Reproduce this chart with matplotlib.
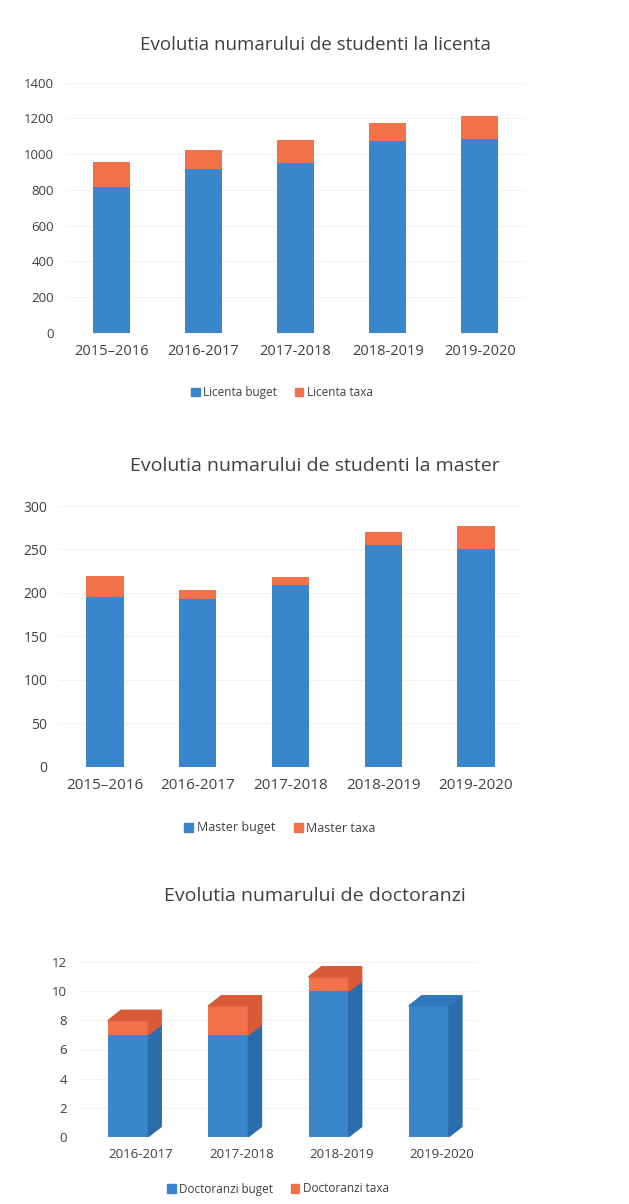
import matplotlib.pyplot as plt
from matplotlib.patches import Polygon, Patch

plt.rcParams["font.family"] = ["Open Sans", "DejaVu Sans"]

# data
years_lic = ["2015\u20132016", "2016-2017", "2017-2018", "2018-2019", "2019-2020"]
licenta_buget = [815, 918, 950, 1075, 1086]
licenta_taxa = [140, 107, 131, 97, 125]

years_mas = ["2015\u20132016", "2016-2017", "2017-2018", "2018-2019", "2019-2020"]
master_buget = [195, 193, 209, 255, 251]
master_taxa = [24, 10, 9, 15, 26]

years_doc = ["2016-2017", "2017-2018", "2018-2019", "2019-2020"]
doctoranzi_buget = [7, 7, 10, 9]
doctoranzi_taxa = [1, 2, 1, 0]

BLUE = "#3A86CC"
ORANGE = "#F0714A"
BLUE_SIDE = "#2B6DAA"
BLUE_TOP = "#2F78BC"
ORANGE_TOP = "#D85A36"
TEXT = "#404040"

fig = plt.figure(figsize=(6.29, 12.04), dpi=100)
H = 1204.0
W = 629.0


def axes_box(left, right, top, bottom):
    return [left / W, 1 - bottom / H, (right - left) / W, (bottom - top) / H]


def style(ax, ymax, step, ysize, xsize):
    ax.set_ylim(0, ymax)
    ax.set_yticks(range(0, ymax + 1, step))
    ax.grid(axis="y", color="#f3f3f3", linewidth=0.8)
    ax.set_axisbelow(True)
    for s in ax.spines.values():
        s.set_visible(False)
    ax.tick_params(length=0, colors=TEXT, pad=8)
    ax.tick_params(axis="y", labelsize=ysize)
    ax.tick_params(axis="x", labelsize=xsize)


# ---- licenta
ax1 = fig.add_axes(axes_box(65, 526, 82.7, 333))
x = range(len(years_lic))
ax1.bar(x, licenta_buget, width=0.4, color=BLUE)
ax1.bar(x, licenta_taxa, width=0.4, bottom=licenta_buget, color=ORANGE)
ax1.set_xlim(-0.5, len(years_lic) - 0.5)
ax1.set_xticks(list(x))
ax1.set_xticklabels(years_lic)
style(ax1, 1400, 200, 9.5, 10.5)
fig.text(315 / W, 1 - 45 / H, "Evolutia numarului de studenti la licenta",
         ha="center", va="center", fontsize=13.5, color=TEXT)
fig.legend(handles=[Patch(color=BLUE, label="Licenta buget"),
                    Patch(color=ORANGE, label="Licenta taxa")],
           loc="center", bbox_to_anchor=(282 / W, 1 - 393 / H), ncol=2,
           frameon=False, fontsize=8.5, handlelength=0.7, handleheight=0.7,
           handletextpad=0.3, columnspacing=1.5, labelcolor=TEXT)

# ---- master
ax2 = fig.add_axes(axes_box(58.6, 522.4, 506, 766.7))
x = range(len(years_mas))
ax2.bar(x, master_buget, width=0.4, color=BLUE)
ax2.bar(x, master_taxa, width=0.4, bottom=master_buget, color=ORANGE)
ax2.set_xlim(-0.5, len(years_mas) - 0.5)
ax2.set_xticks(list(x))
ax2.set_xticklabels(years_mas)
style(ax2, 300, 50, 10, 11)
fig.text(315 / W, 1 - 466 / H, "Evolutia numarului de studenti la master",
         ha="center", va="center", fontsize=14, color=TEXT)
fig.legend(handles=[Patch(color=BLUE, label="Master buget"),
                    Patch(color=ORANGE, label="Master taxa")],
           loc="center", bbox_to_anchor=(280 / W, 1 - 828 / H), ncol=2,
           frameon=False, fontsize=9, handlelength=0.7, handleheight=0.7,
           handletextpad=0.3, columnspacing=1.5, labelcolor=TEXT)

# ---- doctoranzi (3D look)
ax3 = fig.add_axes(axes_box(78, 479, 962.3, 1136.7))
x = list(range(len(years_doc)))
w = 0.4
dx, dy = 0.13, 0.7  # depth of the 3D effect
ax3.bar(x, doctoranzi_buget, width=w, color=BLUE, zorder=3)
ax3.bar(x, doctoranzi_taxa, width=w, bottom=doctoranzi_buget, color=ORANGE, zorder=3)
for xi, b, t in zip(x, doctoranzi_buget, doctoranzi_taxa):
    x1 = xi + w / 2
    x0 = xi - w / 2
    total = b + t
    # side faces
    ax3.add_patch(Polygon([(x1, 0), (x1 + dx, dy), (x1 + dx, b + dy), (x1, b)],
                          closed=True, color=BLUE_SIDE, zorder=3))
    if t > 0:
        ax3.add_patch(Polygon([(x1, b), (x1 + dx, b + dy), (x1 + dx, total + dy), (x1, total)],
                              closed=True, color=ORANGE_TOP, zorder=3))
    top_color = ORANGE_TOP if t > 0 else BLUE_TOP
    ax3.add_patch(Polygon([(x0, total), (x1, total), (x1 + dx, total + dy), (x0 + dx, total + dy)],
                          closed=True, color=top_color, zorder=3))
ax3.set_xlim(-0.5, len(years_doc) - 0.5)
ax3.set_xticks([xi + dx for xi in x])
ax3.set_xticklabels(years_doc)
style(ax3, 12, 2, 9.5, 9.5)
fig.text(315 / W, 1 - 896 / H, "Evolutia numarului de doctoranzi",
         ha="center", va="center", fontsize=14, color=TEXT)
fig.legend(handles=[Patch(color=BLUE, label="Doctoranzi buget"),
                    Patch(color=ORANGE, label="Doctoranzi taxa")],
           loc="center", bbox_to_anchor=(278 / W, 1 - 1189 / H), ncol=2,
           frameon=False, fontsize=8.5, handlelength=0.7, handleheight=0.7,
           handletextpad=0.3, columnspacing=1.5, labelcolor=TEXT)

fig.savefig("out.png", dpi=100)
